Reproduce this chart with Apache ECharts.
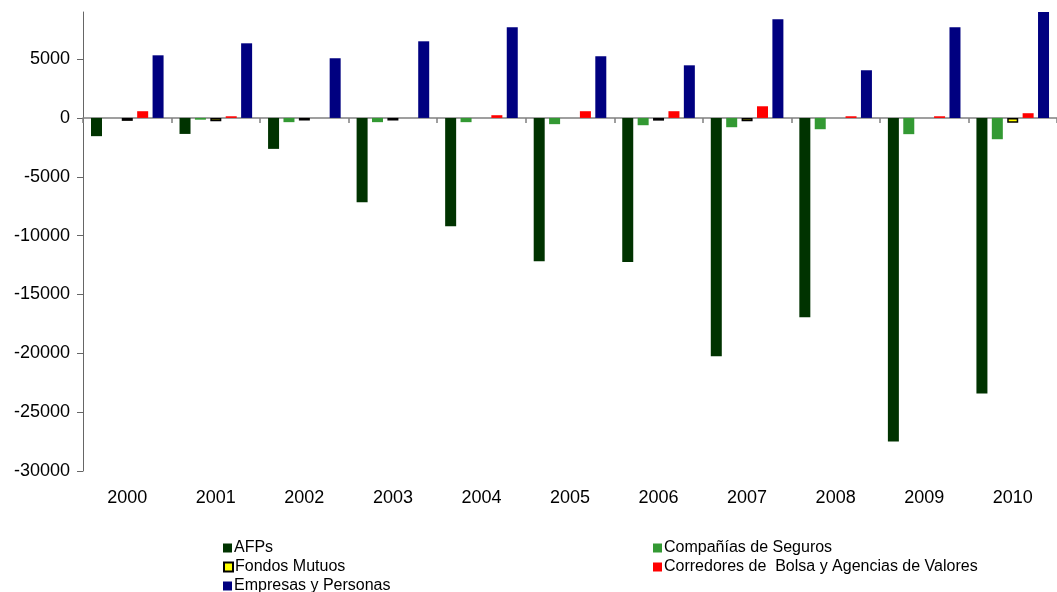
<!DOCTYPE html>
<html>
<head>
<meta charset="utf-8">
<script src="https://cdn.jsdelivr.net/npm/echarts@6/dist/echarts.min.js"></script>
<style>
html,body{margin:0;padding:0;background:#fff;}
#c{width:1057px;height:592px;}
</style>
</head>
<body>
<div id="c"></div>
<script>
const years = ['2000','2001','2002','2003','2004','2005','2006','2007','2008','2009','2010'];
const afps = [-1550, -1360, -2630, -7170, -9210, -12170, -12250, -20240, -16930, -27500, -23420];
const seguros = [0, -150, -360, -360, -360, -530, -620, -790, -960, -1380, -1810];
const fondos = [-250, -280, -220, -220, null, null, -230, -280, null, null, -420];
const corredores = [570, 140, 0, 0, 230, 570, 570, 990, 140, 140, 400];
const empresas = [5320, 6340, 5070, 6510, 7700, 5240, 4470, 8380, 4050, 7700, 9300];
const yTicks = [-30000, -25000, -20000, -15000, -10000, -5000, 0, 5000];
const seriesNames = ['AFPs', 'Compañías de Seguros', 'Fondos Mutuos', 'Corredores de  Bolsa y Agencias de Valores', 'Empresas y Personas'];

const chart = echarts.init(document.getElementById('c'), null, {renderer: 'canvas'});
const font = 'Liberation Sans, Arial, sans-serif';
function bar(name, data, color, extra) {
  return Object.assign({
    name: name, type: 'bar', data: data,
    barWidth: 11, barGap: '40%',
    itemStyle: {color: color},
    emphasis: {disabled: true},
    animation: false
  }, extra || {});
}
const legendText = {fontFamily: font, fontSize: 16, color: '#000', lineHeight: 14, padding: [0,0,0,-3]};
function leg(name, left, top) {
  return {
    orient: 'horizontal', left: left, top: top, padding: 0,
    itemWidth: 9, itemHeight: 9, icon: 'rect',
    textStyle: legendText, selectedMode: false,
    data: [name]
  };
}
chart.setOption({
  animation: false,
  grid: {left: 83, right: -16, top: 12, bottom: 121, containLabel: false},
  legend: [
    leg(seriesNames[0], 223, 540),
    leg(seriesNames[2], 223, 559),
    leg(seriesNames[4], 223, 578),
    leg(seriesNames[1], 653, 540),
    leg(seriesNames[3], 653, 559)
  ],
  xAxis: [
    {
      type: 'category', data: years,
      axisLine: {show: true, onZero: true, lineStyle: {color: '#808080', width: 1.5}},
      axisTick: {show: true, length: 5, inside: false, alignWithLabel: false, lineStyle: {color: '#808080', width: 1.5}},
      axisLabel: {show: false},
      splitLine: {show: false}
    },
    {
      type: 'category', data: years, position: 'bottom',
      axisLine: {show: false, onZero: false},
      axisTick: {show: false},
      axisLabel: {show: true, margin: 18, fontFamily: font, fontSize: 18, color: '#000'},
      splitLine: {show: false}
    }
  ],
  yAxis: {
    type: 'value', min: -30000, max: 9000, interval: 5000,
    axisLine: {show: true, lineStyle: {color: '#666', width: 1}},
    axisTick: {show: true, length: 6, customValues: yTicks, lineStyle: {color: '#666'}},
    axisLabel: {customValues: yTicks, margin: 13, fontFamily: font, fontSize: 18, color: '#000',
      formatter: function (v) { return String(v); }},
    splitLine: {show: false}
  },
  series: [
    bar(seriesNames[0], afps, '#003300'),
    bar(seriesNames[1], seguros, '#339933'),
    bar(seriesNames[2], fondos, '#ffff00', {itemStyle: {color: '#ffff00', borderColor: '#000', borderWidth: 1.5}}),
    bar(seriesNames[3], corredores, '#ff0000'),
    bar(seriesNames[4], empresas, '#000080')
  ]
});
</script>
</body>
</html>
